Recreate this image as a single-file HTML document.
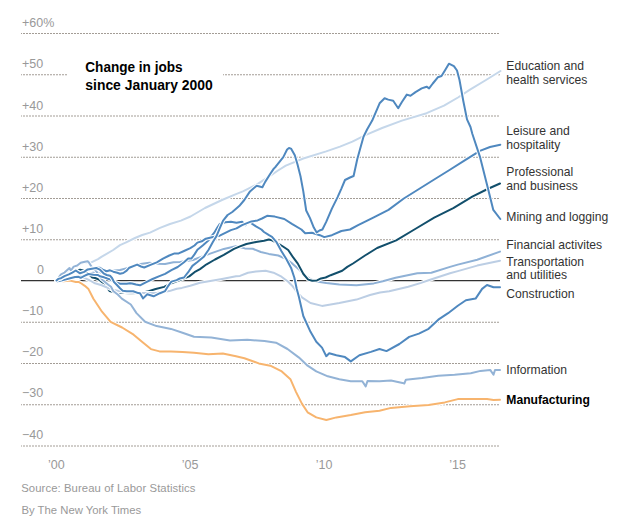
<!DOCTYPE html>
<html><head><meta charset="utf-8"><style>
html,body{margin:0;padding:0;background:#fff;}
svg{display:block;}
text{font-family:"Liberation Sans",Arial,sans-serif;}
.yl{font-size:12.5px;fill:#999;}
.g{stroke:#a39d96;stroke-width:1;stroke-dasharray:2 1;stroke-dashoffset:1;}
.h{fill:none;stroke:#fff;stroke-width:4;stroke-linejoin:round;stroke-linecap:round;}
.l{fill:none;stroke-width:2;stroke-linejoin:round;stroke-linecap:round;}
.lab{font-size:12.15px;fill:#333;}
.xl{font-size:12.5px;fill:#999;text-anchor:middle;}
.src{font-size:11.3px;fill:#999;}
</style></head><body>
<svg width="626" height="525" viewBox="0 0 626 525">
<line class="g" x1="21" x2="500" y1="33.5" y2="33.5"/>
<line class="g" x1="21" x2="67" y1="74.75" y2="74.75"/>
<line class="g" x1="223" x2="500" y1="74.75" y2="74.75"/>
<line class="g" x1="21" x2="500" y1="116.0" y2="116.0"/>
<line class="g" x1="21" x2="500" y1="157.25" y2="157.25"/>
<line class="g" x1="21" x2="500" y1="198.5" y2="198.5"/>
<line class="g" x1="21" x2="500" y1="239.75" y2="239.75"/>
<line class="g" x1="21" x2="500" y1="322.25" y2="322.25"/>
<line class="g" x1="21" x2="500" y1="363.5" y2="363.5"/>
<line class="g" x1="21" x2="500" y1="404.75" y2="404.75"/>
<line class="g" x1="21" x2="500" y1="446.0" y2="446.0"/>
<line x1="21" x2="500" y1="280.6" y2="280.6" stroke="#333" stroke-width="1.3"/>
<text x="22" y="27" class="yl">+60%</text>
<text x="22" y="68" class="yl">+50</text>
<text x="22" y="110" class="yl">+40</text>
<text x="22" y="151" class="yl">+30</text>
<text x="22" y="192" class="yl">+20</text>
<text x="22" y="233" class="yl">+10</text>
<text x="44" y="274" text-anchor="end" class="yl">0</text>
<text x="22" y="315" class="yl">−10</text>
<text x="22" y="356" class="yl">−20</text>
<text x="22" y="397" class="yl">−30</text>
<text x="22" y="439" class="yl">−40</text>
<text x="85.3" y="72" textLength="97.3" lengthAdjust="spacingAndGlyphs" style="font-size:14px;font-weight:bold;fill:#000">Change in jobs</text>
<text x="85.3" y="90" textLength="127.5" lengthAdjust="spacingAndGlyphs" style="font-size:14px;font-weight:bold;fill:#000">since January 2000</text>
<polyline class="h" points="56.5,280.5 65.0,279.0 75.0,277.0 85.0,275.5 93.7,272.5 100.0,272.5 110.0,271.0 120.0,270.0 130.0,267.5 137.0,265.0 142.2,263.8 149.4,262.8 156.8,263.8 165.1,264.0 173.5,262.3 180.0,262.0 192.9,260.0 206.6,254.9 223.8,248.9 235.8,246.3 244.8,248.4 252.8,248.8 260.8,252.0 268.8,253.9 278.3,255.5 286.3,259.1 292.7,263.9 299.1,269.5 305.5,275.9 310.3,279.1 316.7,281.5 326.3,283.1 339.3,284.5 356.5,285.2 373.8,283.4 382.8,281.3 395.6,277.8 417.3,273.3 431.3,272.7 450.0,266.9 457.8,264.6 477.2,259.7 500.0,251.6"/>
<polyline class="l" stroke="#8fb1d6" points="56.5,280.5 65.0,279.0 75.0,277.0 85.0,275.5 93.7,272.5 100.0,272.5 110.0,271.0 120.0,270.0 130.0,267.5 137.0,265.0 142.2,263.8 149.4,262.8 156.8,263.8 165.1,264.0 173.5,262.3 180.0,262.0 192.9,260.0 206.6,254.9 223.8,248.9 235.8,246.3 244.8,248.4 252.8,248.8 260.8,252.0 268.8,253.9 278.3,255.5 286.3,259.1 292.7,263.9 299.1,269.5 305.5,275.9 310.3,279.1 316.7,281.5 326.3,283.1 339.3,284.5 356.5,285.2 373.8,283.4 382.8,281.3 395.6,277.8 417.3,273.3 431.3,272.7 450.0,266.9 457.8,264.6 477.2,259.7 500.0,251.6"/>
<polyline class="h" points="56.5,280.5 62.0,278.0 68.0,275.0 74.0,272.0 80.0,269.8 85.0,271.0 89.0,274.5 92.3,277.6 95.0,278.0 98.3,279.3 101.0,281.3 105.0,285.0 109.5,291.0 115.0,292.5 125.0,293.0 135.0,293.5 143.0,292.5 148.6,291.2 155.7,289.0 164.1,286.9 172.0,283.0 180.0,280.0 189.2,276.4 194.5,272.2 200.0,269.1 206.6,264.3 215.0,259.5 223.8,254.9 234.0,248.9 240.0,246.4 246.4,244.0 256.0,242.0 264.0,240.8 268.8,239.5 272.0,240.4 278.3,243.6 283.0,246.5 288.2,250.0 293.0,257.2 297.8,263.6 303.4,274.0 308.2,279.6 312.2,280.8 317.0,280.4 321.0,278.4 325.6,277.5 330.7,275.2 335.8,273.3 342.2,270.8 347.3,266.9 353.0,263.5 365.0,255.5 377.1,248.0 396.2,240.4 415.2,229.0 434.2,217.6 453.3,208.1 472.3,196.6 487.6,189.0 500.0,183.5"/>
<polyline class="l" stroke="#124f6c" points="56.5,280.5 62.0,278.0 68.0,275.0 74.0,272.0 80.0,269.8 85.0,271.0 89.0,274.5 92.3,277.6 95.0,278.0 98.3,279.3 101.0,281.3 105.0,285.0 109.5,291.0 115.0,292.5 125.0,293.0 135.0,293.5 143.0,292.5 148.6,291.2 155.7,289.0 164.1,286.9 172.0,283.0 180.0,280.0 189.2,276.4 194.5,272.2 200.0,269.1 206.6,264.3 215.0,259.5 223.8,254.9 234.0,248.9 240.0,246.4 246.4,244.0 256.0,242.0 264.0,240.8 268.8,239.5 272.0,240.4 278.3,243.6 283.0,246.5 288.2,250.0 293.0,257.2 297.8,263.6 303.4,274.0 308.2,279.6 312.2,280.8 317.0,280.4 321.0,278.4 325.6,277.5 330.7,275.2 335.8,273.3 342.2,270.8 347.3,266.9 353.0,263.5 365.0,255.5 377.1,248.0 396.2,240.4 415.2,229.0 434.2,217.6 453.3,208.1 472.3,196.6 487.6,189.0 500.0,183.5"/>
<polyline class="h" points="56.5,280.5 65.0,279.3 72.0,278.3 78.0,277.6 84.9,278.2 90.0,280.5 95.0,283.3 101.7,285.3 108.3,288.0 113.5,290.1 125.0,292.0 136.5,293.0 156.6,293.0 169.3,291.1 176.8,288.7 181.9,287.9 190.3,285.8 200.0,282.7 222.0,278.9 236.0,276.3 240.0,275.9 248.0,272.7 256.0,271.4 265.6,270.8 273.5,272.7 281.5,276.7 287.9,281.5 292.7,286.3 297.5,292.7 301.9,297.3 310.5,303.0 322.0,305.9 339.3,303.0 356.5,299.6 370.0,295.0 380.0,292.5 389.2,291.2 408.3,286.7 421.1,282.9 430.1,279.7 450.0,273.3 457.8,271.1 477.2,265.6 500.0,260.7"/>
<polyline class="l" stroke="#bccee4" points="56.5,280.5 65.0,279.3 72.0,278.3 78.0,277.6 84.9,278.2 90.0,280.5 95.0,283.3 101.7,285.3 108.3,288.0 113.5,290.1 125.0,292.0 136.5,293.0 156.6,293.0 169.3,291.1 176.8,288.7 181.9,287.9 190.3,285.8 200.0,282.7 222.0,278.9 236.0,276.3 240.0,275.9 248.0,272.7 256.0,271.4 265.6,270.8 273.5,272.7 281.5,276.7 287.9,281.5 292.7,286.3 297.5,292.7 301.9,297.3 310.5,303.0 322.0,305.9 339.3,303.0 356.5,299.6 370.0,295.0 380.0,292.5 389.2,291.2 408.3,286.7 421.1,282.9 430.1,279.7 450.0,273.3 457.8,271.1 477.2,265.6 500.0,260.7"/>
<polyline class="h" points="56.5,280.5 61.0,275.5 64.5,273.5 69.5,269.5 73.7,267.6 77.2,266.2 80.7,263.6 84.9,262.5 87.7,262.2 91.3,262.4 98.0,259.2 101.8,256.7 113.2,250.0 120.0,245.1 125.6,242.7 135.0,238.0 142.2,235.0 150.0,232.6 160.0,227.9 170.0,224.0 180.9,220.6 190.5,216.5 205.0,208.0 222.0,200.0 236.0,194.2 242.9,191.4 256.6,184.6 268.6,176.9 278.0,170.5 285.8,165.7 303.3,158.5 326.2,151.4 340.0,146.6 352.4,141.6 364.8,135.4 382.1,128.0 401.9,120.6 426.6,113.2 444.0,105.7 458.0,97.5 470.0,89.7 486.0,80.0 500.5,71.0"/>
<polyline class="l" stroke="#c5d7ea" points="56.5,280.5 61.0,275.5 64.5,273.5 69.5,269.5 73.7,267.6 77.2,266.2 80.7,263.6 84.9,262.5 87.7,262.2 91.3,262.4 98.0,259.2 101.8,256.7 113.2,250.0 120.0,245.1 125.6,242.7 135.0,238.0 142.2,235.0 150.0,232.6 160.0,227.9 170.0,224.0 180.9,220.6 190.5,216.5 205.0,208.0 222.0,200.0 236.0,194.2 242.9,191.4 256.6,184.6 268.6,176.9 278.0,170.5 285.8,165.7 303.3,158.5 326.2,151.4 340.0,146.6 352.4,141.6 364.8,135.4 382.1,128.0 401.9,120.6 426.6,113.2 444.0,105.7 458.0,97.5 470.0,89.7 486.0,80.0 500.5,71.0"/>
<polyline class="h" points="56.5,280.5 61.0,274.3 64.5,272.6 69.5,268.0 70.9,270.5 73.7,266.6 77.2,265.5 80.7,262.7 84.9,261.7 87.7,261.3 89.1,262.7 91.2,266.2 96.5,271.6 101.7,279.3 105.0,282.0 108.3,284.7 111.0,286.7 113.2,291.0 118.0,294.8 121.8,298.6 130.8,304.5 136.5,313.1 145.1,321.8 156.6,326.1 171.0,328.9 182.5,332.7 194.0,336.7 211.3,337.6 230.0,340.4 247.3,339.8 264.5,341.0 276.0,342.7 287.5,349.0 299.0,357.6 307.6,365.7 316.3,371.4 327.8,376.3 339.3,379.2 350.8,381.2 362.3,381.2 365.7,386.4 367.5,381.0 379.5,381.2 391.0,380.6 402.5,382.9 404.3,383.5 405.9,379.7 422.1,378.0 438.3,375.8 454.6,374.8 470.8,373.2 480.5,370.9 490.2,369.9 493.5,374.8 495.0,370.0 500.0,369.9"/>
<polyline class="l" stroke="#93b3d6" points="56.5,280.5 61.0,274.3 64.5,272.6 69.5,268.0 70.9,270.5 73.7,266.6 77.2,265.5 80.7,262.7 84.9,261.7 87.7,261.3 89.1,262.7 91.2,266.2 96.5,271.6 101.7,279.3 105.0,282.0 108.3,284.7 111.0,286.7 113.2,291.0 118.0,294.8 121.8,298.6 130.8,304.5 136.5,313.1 145.1,321.8 156.6,326.1 171.0,328.9 182.5,332.7 194.0,336.7 211.3,337.6 230.0,340.4 247.3,339.8 264.5,341.0 276.0,342.7 287.5,349.0 299.0,357.6 307.6,365.7 316.3,371.4 327.8,376.3 339.3,379.2 350.8,381.2 362.3,381.2 365.7,386.4 367.5,381.0 379.5,381.2 391.0,380.6 402.5,382.9 404.3,383.5 405.9,379.7 422.1,378.0 438.3,375.8 454.6,374.8 470.8,373.2 480.5,370.9 490.2,369.9 493.5,374.8 495.0,370.0 500.0,369.9"/>
<polyline class="h" points="56.5,280.5 63.8,281.2 70.2,280.6 75.8,282.0 79.0,282.1 81.4,283.5 84.8,285.8 88.5,289.1 93.4,298.8 102.0,311.7 110.6,321.8 122.1,327.5 133.6,334.7 142.3,341.9 150.9,349.1 159.5,351.4 171.0,351.4 182.5,351.9 194.0,352.8 208.4,354.2 222.8,353.4 236.0,356.3 244.4,358.2 258.8,363.4 270.3,365.7 281.8,371.4 290.4,379.2 296.1,392.1 301.9,403.6 307.6,412.3 316.3,417.4 326.3,420.0 336.4,417.4 350.8,415.1 365.1,412.3 379.5,410.8 391.0,407.9 410.0,406.2 428.6,404.9 444.8,402.4 457.8,399.1 474.0,399.1 487.0,399.1 493.5,400.1 500.0,399.8"/>
<polyline class="l" stroke="#f7b46e" points="56.5,280.5 63.8,281.2 70.2,280.6 75.8,282.0 79.0,282.1 81.4,283.5 84.8,285.8 88.5,289.1 93.4,298.8 102.0,311.7 110.6,321.8 122.1,327.5 133.6,334.7 142.3,341.9 150.9,349.1 159.5,351.4 171.0,351.4 182.5,351.9 194.0,352.8 208.4,354.2 222.8,353.4 236.0,356.3 244.4,358.2 258.8,363.4 270.3,365.7 281.8,371.4 290.4,379.2 296.1,392.1 301.9,403.6 307.6,412.3 316.3,417.4 326.3,420.0 336.4,417.4 350.8,415.1 365.1,412.3 379.5,410.8 391.0,407.9 410.0,406.2 428.6,404.9 444.8,402.4 457.8,399.1 474.0,399.1 487.0,399.1 493.5,400.1 500.0,399.8"/>
<polyline class="h" points="56.5,280.5 57.5,281.4 61.0,280.5 65.2,279.6 70.2,278.2 75.1,277.1 78.6,276.8 80.7,277.8 84.9,275.7 88.4,274.0 93.4,274.7 98.0,275.0 100.0,276.3 104.0,277.3 108.0,278.7 110.0,279.3 115.0,282.0 120.0,283.7 126.7,283.7 130.0,283.3 132.0,283.5 136.0,284.5 140.0,285.3 146.3,282.2 152.6,279.0 158.8,276.4 165.1,273.8 171.4,270.1 177.7,267.0 184.0,262.3 188.2,258.6 191.3,258.6 194.5,254.4 197.4,249.7 203.0,245.2 208.6,240.2 211.9,235.7 214.1,232.9 217.5,227.3 219.7,224.0 225.3,222.3 230.9,221.7 236.5,222.8 242.1,221.7 245.2,225.2 248.0,222.9 250.0,222.3 256.0,226.4 261.4,229.5 264.0,232.0 269.0,235.2 272.0,236.8 276.7,242.4 281.5,251.2 286.3,259.1 291.1,267.9 294.3,277.5 296.7,288.7 299.0,297.3 303.3,316.0 310.5,331.8 316.3,341.8 322.0,347.6 326.3,356.2 329.2,353.3 336.4,355.3 345.0,357.1 350.8,361.4 359.4,355.3 370.9,351.9 379.5,349.0 386.5,351.1 399.4,344.0 409.2,336.9 418.9,333.6 428.6,328.8 438.3,319.7 448.1,313.2 457.8,305.8 465.9,300.2 475.6,298.6 482.1,288.9 487.0,285.0 493.5,287.3 500.0,287.3"/>
<polyline class="l" stroke="#4f88bf" points="56.5,280.5 57.5,281.4 61.0,280.5 65.2,279.6 70.2,278.2 75.1,277.1 78.6,276.8 80.7,277.8 84.9,275.7 88.4,274.0 93.4,274.7 98.0,275.0 100.0,276.3 104.0,277.3 108.0,278.7 110.0,279.3 115.0,282.0 120.0,283.7 126.7,283.7 130.0,283.3 132.0,283.5 136.0,284.5 140.0,285.3 146.3,282.2 152.6,279.0 158.8,276.4 165.1,273.8 171.4,270.1 177.7,267.0 184.0,262.3 188.2,258.6 191.3,258.6 194.5,254.4 197.4,249.7 203.0,245.2 208.6,240.2 211.9,235.7 214.1,232.9 217.5,227.3 219.7,224.0 225.3,222.3 230.9,221.7 236.5,222.8 242.1,221.7 245.2,225.2 248.0,222.9 250.0,222.3 256.0,226.4 261.4,229.5 264.0,232.0 269.0,235.2 272.0,236.8 276.7,242.4 281.5,251.2 286.3,259.1 291.1,267.9 294.3,277.5 296.7,288.7 299.0,297.3 303.3,316.0 310.5,331.8 316.3,341.8 322.0,347.6 326.3,356.2 329.2,353.3 336.4,355.3 345.0,357.1 350.8,361.4 359.4,355.3 370.9,351.9 379.5,349.0 386.5,351.1 399.4,344.0 409.2,336.9 418.9,333.6 428.6,328.8 438.3,319.7 448.1,313.2 457.8,305.8 465.9,300.2 475.6,298.6 482.1,288.9 487.0,285.0 493.5,287.3 500.0,287.3"/>
<polyline class="h" points="56.5,280.5 58.2,279.2 61.0,278.5 64.5,276.4 68.8,274.6 72.3,272.9 75.8,270.8 80.0,273.0 84.2,271.6 87.7,269.4 91.9,268.4 96.2,267.8 100.0,267.7 103.3,270.0 106.7,271.3 110.0,270.3 113.3,271.7 117.3,272.7 120.0,273.7 123.3,273.0 126.7,270.7 129.3,267.7 137.1,264.6 141.0,266.5 144.2,267.5 150.5,264.9 156.8,262.3 163.0,258.6 169.3,255.5 174.6,253.4 178.7,253.4 184.0,251.0 190.3,248.2 194.5,245.5 197.4,242.6 201.8,241.3 205.8,238.7 212.0,237.2 219.7,235.7 225.3,232.9 230.9,230.1 236.5,228.4 242.1,225.1 251.4,221.4 257.6,220.4 262.0,218.5 267.1,215.8 274.8,216.6 284.3,219.0 291.9,223.8 301.4,229.5 305.2,233.3 311.9,232.8 319.9,235.2 324.3,237.1 331.9,235.2 341.4,231.0 350.0,229.5 358.1,225.2 373.3,217.6 388.5,209.9 403.8,198.5 419.0,189.0 434.2,179.5 449.5,170.0 464.7,160.4 479.9,150.9 490.0,147.0 500.3,144.7"/>
<polyline class="l" stroke="#4f88bf" points="56.5,280.5 58.2,279.2 61.0,278.5 64.5,276.4 68.8,274.6 72.3,272.9 75.8,270.8 80.0,273.0 84.2,271.6 87.7,269.4 91.9,268.4 96.2,267.8 100.0,267.7 103.3,270.0 106.7,271.3 110.0,270.3 113.3,271.7 117.3,272.7 120.0,273.7 123.3,273.0 126.7,270.7 129.3,267.7 137.1,264.6 141.0,266.5 144.2,267.5 150.5,264.9 156.8,262.3 163.0,258.6 169.3,255.5 174.6,253.4 178.7,253.4 184.0,251.0 190.3,248.2 194.5,245.5 197.4,242.6 201.8,241.3 205.8,238.7 212.0,237.2 219.7,235.7 225.3,232.9 230.9,230.1 236.5,228.4 242.1,225.1 251.4,221.4 257.6,220.4 262.0,218.5 267.1,215.8 274.8,216.6 284.3,219.0 291.9,223.8 301.4,229.5 305.2,233.3 311.9,232.8 319.9,235.2 324.3,237.1 331.9,235.2 341.4,231.0 350.0,229.5 358.1,225.2 373.3,217.6 388.5,209.9 403.8,198.5 419.0,189.0 434.2,179.5 449.5,170.0 464.7,160.4 479.9,150.9 490.0,147.0 500.3,144.7"/>
<polyline class="h" points="56.5,280.5 58.2,278.9 61.0,278.2 64.5,276.1 68.8,274.3 72.3,272.6 75.8,270.5 80.0,273.3 84.2,271.9 87.7,269.4 91.9,268.7 96.2,268.0 100.0,269.7 104.0,273.7 106.7,275.0 110.0,275.7 112.0,278.0 114.0,282.0 116.7,284.7 120.0,288.3 122.7,290.7 126.7,291.3 130.0,291.3 133.2,291.2 138.3,293.1 140.0,293.2 143.1,298.4 147.3,294.2 153.6,296.3 159.9,293.2 165.1,291.1 168.3,285.8 171.4,281.6 176.6,280.1 179.8,278.5 184.0,277.5 188.2,272.2 192.4,265.9 197.4,262.0 204.1,256.4 208.6,249.7 213.0,241.8 216.4,236.3 219.7,228.4 223.1,220.6 227.6,215.0 232.3,212.0 239.2,206.1 244.3,200.0 250.0,191.4 256.7,185.7 262.4,187.2 265.2,181.9 270.0,174.3 273.8,168.6 275.7,166.7 279.5,161.9 283.3,157.1 287.1,149.5 289.0,148.0 291.0,148.6 294.8,155.2 297.6,164.8 300.5,176.2 303.3,191.4 306.2,210.5 310.0,218.1 313.8,227.6 316.7,232.4 319.5,230.5 322.4,229.5 326.2,221.9 331.9,208.6 337.6,197.1 341.4,188.6 345.0,180.0 350.0,177.5 353.6,176.0 357.3,159.0 363.5,136.7 367.2,129.3 372.2,120.6 379.6,103.3 384.6,98.3 388.3,99.6 393.2,100.8 398.2,108.2 401.9,102.0 406.8,94.6 410.5,95.8 415.5,92.1 421.7,88.4 426.6,86.7 429.1,88.4 432.8,83.5 437.8,77.3 441.5,76.0 445.2,69.9 448.9,63.7 453.9,66.1 457.0,70.5 459.5,80.0 463.3,101.0 467.0,119.4 470.5,127.0 472.3,133.8 479.9,156.6 487.6,187.1 493.3,209.9 500.3,219.0"/>
<polyline class="l" stroke="#4f88bf" points="56.5,280.5 58.2,278.9 61.0,278.2 64.5,276.1 68.8,274.3 72.3,272.6 75.8,270.5 80.0,273.3 84.2,271.9 87.7,269.4 91.9,268.7 96.2,268.0 100.0,269.7 104.0,273.7 106.7,275.0 110.0,275.7 112.0,278.0 114.0,282.0 116.7,284.7 120.0,288.3 122.7,290.7 126.7,291.3 130.0,291.3 133.2,291.2 138.3,293.1 140.0,293.2 143.1,298.4 147.3,294.2 153.6,296.3 159.9,293.2 165.1,291.1 168.3,285.8 171.4,281.6 176.6,280.1 179.8,278.5 184.0,277.5 188.2,272.2 192.4,265.9 197.4,262.0 204.1,256.4 208.6,249.7 213.0,241.8 216.4,236.3 219.7,228.4 223.1,220.6 227.6,215.0 232.3,212.0 239.2,206.1 244.3,200.0 250.0,191.4 256.7,185.7 262.4,187.2 265.2,181.9 270.0,174.3 273.8,168.6 275.7,166.7 279.5,161.9 283.3,157.1 287.1,149.5 289.0,148.0 291.0,148.6 294.8,155.2 297.6,164.8 300.5,176.2 303.3,191.4 306.2,210.5 310.0,218.1 313.8,227.6 316.7,232.4 319.5,230.5 322.4,229.5 326.2,221.9 331.9,208.6 337.6,197.1 341.4,188.6 345.0,180.0 350.0,177.5 353.6,176.0 357.3,159.0 363.5,136.7 367.2,129.3 372.2,120.6 379.6,103.3 384.6,98.3 388.3,99.6 393.2,100.8 398.2,108.2 401.9,102.0 406.8,94.6 410.5,95.8 415.5,92.1 421.7,88.4 426.6,86.7 429.1,88.4 432.8,83.5 437.8,77.3 441.5,76.0 445.2,69.9 448.9,63.7 453.9,66.1 457.0,70.5 459.5,80.0 463.3,101.0 467.0,119.4 470.5,127.0 472.3,133.8 479.9,156.6 487.6,187.1 493.3,209.9 500.3,219.0"/>
<text class="lab" x="506.3" y="69.5">Education and</text>
<text class="lab" x="506.3" y="84">health services</text>
<text class="lab" x="506.3" y="135">Leisure and</text>
<text class="lab" x="506.3" y="148.5">hospitality</text>
<text class="lab" x="506.3" y="176">Professional</text>
<text class="lab" x="506.3" y="189.5">and business</text>
<text class="lab" x="506.3" y="220.5">Mining and logging</text>
<text class="lab" x="506.3" y="248.5">Financial activites</text>
<text class="lab" x="506.3" y="266">Transportation</text>
<text class="lab" x="506.3" y="278.5">and utilities</text>
<text class="lab" x="506.3" y="297.5">Construction</text>
<text class="lab" x="506.3" y="373.5">Information</text>
<text class="lab" x="506.3" y="404" style="font-weight:bold;fill:#000">Manufacturing</text>
<text class="xl" x="56.3" y="469">’00</text>
<text class="xl" x="190.1" y="469">’05</text>
<text class="xl" x="324.1" y="469">’10</text>
<text class="xl" x="457.5" y="469">’15</text>
<text class="src" x="21.2" y="492" textLength="174.3" lengthAdjust="spacing">Source: Bureau of Labor Statistics</text>
<text class="src" x="21.5" y="514">By The New York Times</text>
</svg>
</body></html>
